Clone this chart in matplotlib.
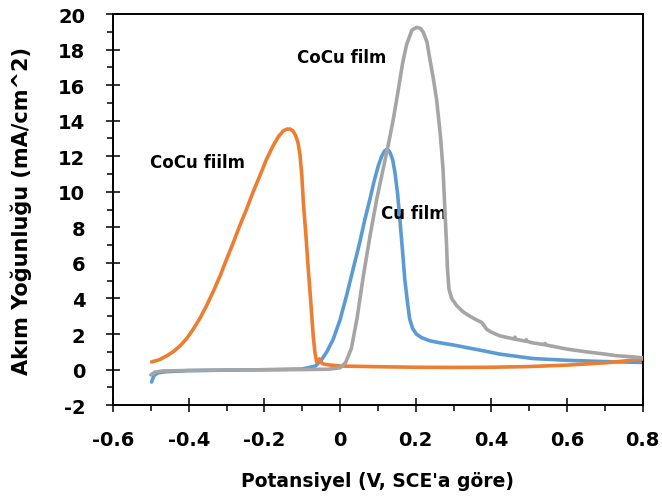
import numpy as np
import matplotlib
matplotlib.use("Agg")
import matplotlib.pyplot as plt
from matplotlib.ticker import MultipleLocator

plt.rcParams['font.family'] = ['DejaVu Sans']
plt.rcParams['font.weight'] = 'bold'
plt.rcParams['axes.unicode_minus'] = False

# Cu film sweep
cu_x = [-0.498, -0.495, -0.49, -0.48, -0.46, -0.4, -0.3, -0.2, -0.1, -0.065, -0.049,
        -0.035, -0.018, 0.0, 0.017, 0.035, 0.052, 0.065, 0.079, 0.09, 0.101, 0.11,
        0.118, 0.125, 0.132, 0.139, 0.145, 0.152, 0.158, 0.165, 0.171, 0.178,
        0.184, 0.192, 0.202, 0.215, 0.237, 0.26, 0.3, 0.334, 0.38, 0.422, 0.51,
        0.6, 0.642, 0.7, 0.8]
cu_y = [-0.7, -0.5, -0.3, -0.18, -0.12, -0.06, -0.03, -0.01, 0.03, 0.2, 0.55,
        1.0, 1.71, 2.8, 4.15, 5.7, 7.15, 8.4, 9.59, 10.6, 11.46, 12.0,
        12.31, 12.4, 12.22, 11.8, 11.1, 9.9, 8.46, 6.7, 5.09, 3.8,
        2.84, 2.3, 1.99, 1.8, 1.62, 1.52, 1.38, 1.24, 1.05, 0.87, 0.62,
        0.52, 0.49, 0.45, 0.4]

# CoCu fiilm sweep (orange)
cocu1_x = [-0.498, -0.478, -0.458, -0.44, -0.423, -0.405, -0.388, -0.37, -0.353,
           -0.335, -0.317, -0.3, -0.282, -0.265, -0.247, -0.23, -0.212, -0.195,
           -0.177, -0.163, -0.15, -0.14, -0.132, -0.124, -0.117, -0.111, -0.106,
           -0.101, -0.097, -0.09, -0.084, -0.077, -0.071, -0.066, -0.062, -0.058,
           -0.055, -0.05, -0.045, -0.035, -0.02, 0.0, 0.05, 0.1, 0.2, 0.3, 0.4,
           0.5, 0.6, 0.7, 0.75, 0.8]
cocu1_y = [0.43, 0.55, 0.77, 1.02, 1.33, 1.75, 2.27, 2.9, 3.58,
           4.4, 5.27, 6.2, 7.15, 8.1, 9.03, 9.98, 10.9, 11.8,
           12.59, 13.1, 13.43, 13.53, 13.53, 13.42, 13.15, 12.75, 12.1,
           10.9, 9.4, 7.5, 5.65, 3.7, 1.9, 0.9, 0.45, 0.45,
           0.6, 0.4, 0.32, 0.28, 0.24, 0.2, 0.18, 0.16, 0.13, 0.12, 0.13,
           0.17, 0.25, 0.38, 0.48, 0.6]

# CoCu film sweep (gray)
cocu2_x = [-0.5, -0.49, -0.47, -0.4, -0.3, -0.2, -0.1, -0.03, 0.0, 0.015, 0.03,
           0.045, 0.061, 0.079, 0.097, 0.114, 0.127, 0.14, 0.152, 0.165, 0.176,
           0.19, 0.202, 0.212, 0.22, 0.23, 0.237, 0.247, 0.255, 0.265, 0.272,
           0.277, 0.281, 0.284, 0.288, 0.295, 0.308, 0.325, 0.343, 0.36, 0.374,
           0.38, 0.387, 0.4, 0.422, 0.46, 0.462, 0.465, 0.49, 0.492, 0.495, 0.51,
           0.54, 0.542, 0.545, 0.6, 0.65, 0.7, 0.73, 0.77, 0.8]
cocu2_y = [-0.3, -0.15, -0.08, -0.05, -0.03, -0.01, 0.0, 0.02, 0.1, 0.4, 1.2,
           2.9, 5.2, 7.5, 9.6, 11.3, 12.6, 14.0, 15.5, 17.2, 18.3,
           19.1, 19.25, 19.2, 18.97, 18.4, 17.5, 16.3, 15.2, 13.2, 11.3,
           9.0, 7.2, 5.6, 4.5, 4.0, 3.6, 3.25, 3.0, 2.8, 2.65,
           2.5, 2.27, 2.1, 1.9, 1.72, 1.82, 1.7, 1.6, 1.68, 1.58, 1.5,
           1.4, 1.47, 1.38, 1.15, 1.0, 0.87, 0.78, 0.72, 0.66]

x_ticks = [-0.6, -0.4, -0.2, 0, 0.2, 0.4, 0.6, 0.8]
x_labels = ['-0.6', '-0.4', '-0.2', '0', '0.2', '0.4', '0.6', '0.8']
y_ticks = list(range(-2, 21, 2))
y_labels = [str(v) for v in y_ticks]

fig = plt.figure(figsize=(6.62, 5.02), dpi=100)
ax = fig.add_axes([0.1707, 0.191, 0.8003, 0.779])

ax.plot(cu_x, cu_y, color='#5B9BD5', lw=2.6, zorder=2, solid_capstyle='round')
ax.plot(cocu1_x, cocu1_y, color='#ED7D31', lw=2.6, zorder=3, solid_capstyle='round')
ax.plot(cocu2_x, cocu2_y, color='#A5A5A5', lw=2.6, zorder=4, solid_capstyle='round')

ax.text(-0.378, 11.67, 'CoCu fiilm', ha='center', va='center', fontsize=12, fontweight='bold')
ax.text(0.005, 17.58, 'CoCu film', ha='center', va='center', fontsize=12, fontweight='bold')
ax.text(0.195, 8.8, 'Cu film', ha='center', va='center', fontsize=12, fontweight='bold')

ax.set_xlim(-0.6, 0.8)
ax.set_ylim(-2, 20)
ax.set_xticks(x_ticks)
ax.set_xticklabels(x_labels)
ax.set_yticks(y_ticks)
ax.set_yticklabels(y_labels)
ax.xaxis.set_minor_locator(MultipleLocator(0.1))
ax.yaxis.set_minor_locator(MultipleLocator(1))
ax.tick_params(which='major', direction='inout', length=10, width=1.1, labelsize=14)
ax.tick_params(axis='x', which='major', pad=13)
ax.tick_params(axis='y', which='major', pad=15)
ax.tick_params(which='minor', direction='out', length=4, width=1.1)
for lbl in ax.get_xticklabels() + ax.get_yticklabels():
    lbl.set_fontweight('bold')
for sp in ax.spines.values():
    sp.set_linewidth(1.4)
    sp.set_color('black')

ax.set_xlabel("Potansiyel (V, SCE'a göre)", fontsize=13.5, fontweight='bold', labelpad=16)
ax.set_ylabel('Akım Yoğunluğu (mA/cm^2)', fontsize=15, fontweight='bold', labelpad=19)

fig.savefig('out.png', dpi=100)
